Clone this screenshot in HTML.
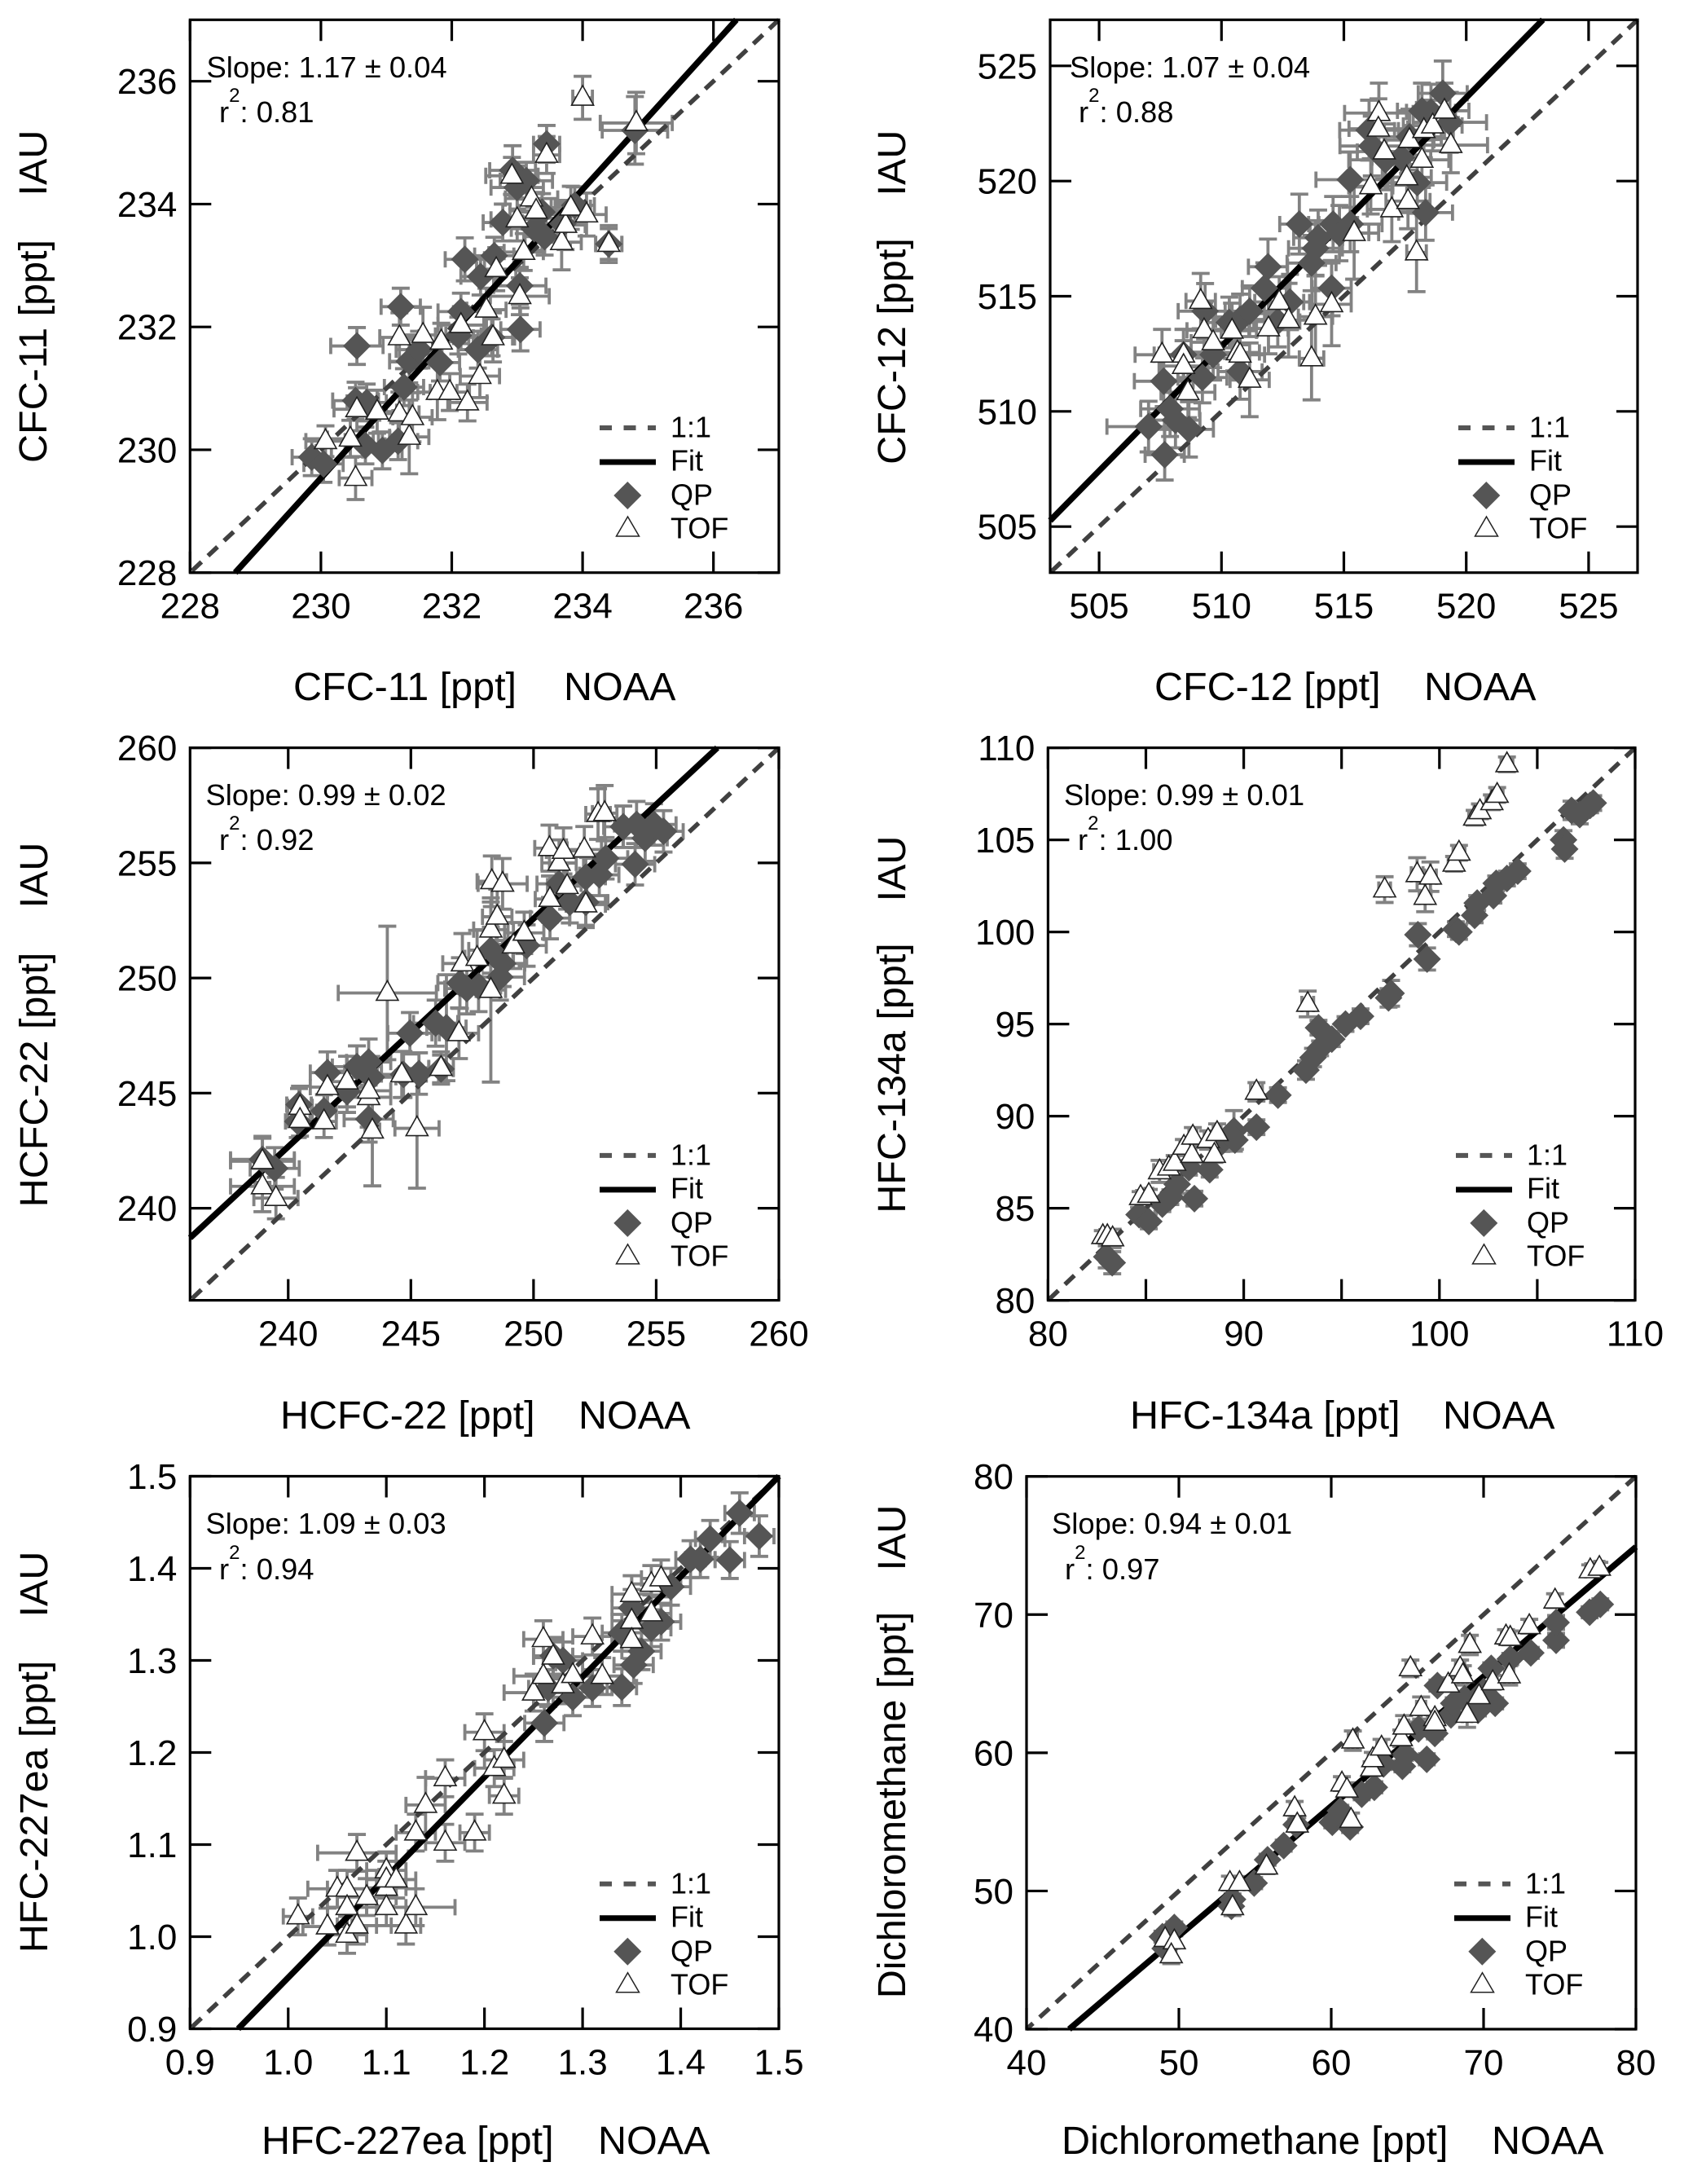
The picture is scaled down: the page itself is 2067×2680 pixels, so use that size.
<!DOCTYPE html>
<html lang="en">
<head>
<meta charset="utf-8">
<title>IAU vs NOAA mixing ratio comparison</title>
<style>
html,body{margin:0;padding:0;background:#fff;}
svg{display:block;position:absolute;left:0;top:0;}
text{font-family:"Liberation Sans",Arial,sans-serif;fill:#000;}
.ax{font-size:48.5px;}
.nt{font-size:36.4px;}
.lg{font-size:36px;}
</style>
</head>
<body>
<svg id="chart" xmlns="http://www.w3.org/2000/svg" width="2067" height="2680" viewBox="0 0 2067 2680">
  <rect x="0" y="0" width="2067" height="2680" fill="#fff"/>
  <g id="plots"></g>

  <g>
    <text class="ax" x="360" y="859">CFC-11 [ppt]</text>
    <text class="ax" x="692" y="859">NOAA</text>
    <text class="ax" transform="translate(57,431) rotate(-90)" text-anchor="middle">CFC-11 [ppt]</text>
    <text class="ax" transform="translate(57,200) rotate(-90)" text-anchor="middle">IAU</text>
    <text class="nt" x="253.5" y="95">Slope: 1.17 ± 0.04</text>
    <text class="nt" x="269" y="150">r<tspan font-size="24" dy="-25">2</tspan><tspan dy="25">: 0.81</tspan></text>

    <text class="ax" x="1417" y="859">CFC-12 [ppt]</text>
    <text class="ax" x="1748" y="859">NOAA</text>
    <text class="ax" transform="translate(1111,431) rotate(-90)" text-anchor="middle">CFC-12 [ppt]</text>
    <text class="ax" transform="translate(1111,200) rotate(-90)" text-anchor="middle">IAU</text>
    <text class="nt" x="1313" y="95">Slope: 1.07 ± 0.04</text>
    <text class="nt" x="1324" y="150">r<tspan font-size="24" dy="-25">2</tspan><tspan dy="25">: 0.88</tspan></text>

    <text class="ax" x="344" y="1753">HCFC-22 [ppt]</text>
    <text class="ax" x="710" y="1753">NOAA</text>
    <text class="ax" transform="translate(58,1325) rotate(-90)" text-anchor="middle">HCFC-22 [ppt]</text>
    <text class="ax" transform="translate(58,1074) rotate(-90)" text-anchor="middle">IAU</text>
    <text class="nt" x="252.5" y="988">Slope: 0.99 ± 0.02</text>
    <text class="nt" x="269" y="1043">r<tspan font-size="24" dy="-25">2</tspan><tspan dy="25">: 0.92</tspan></text>

    <text class="ax" x="1387" y="1753">HFC-134a [ppt]</text>
    <text class="ax" x="1771" y="1753">NOAA</text>
    <text class="ax" transform="translate(1111,1323) rotate(-90)" text-anchor="middle">HFC-134a [ppt]</text>
    <text class="ax" transform="translate(1111,1066) rotate(-90)" text-anchor="middle">IAU</text>
    <text class="nt" x="1306" y="988">Slope: 0.99 ± 0.01</text>
    <text class="nt" x="1323" y="1043">r<tspan font-size="24" dy="-25">2</tspan><tspan dy="25">: 1.00</tspan></text>

    <text class="ax" x="321" y="2643">HFC-227ea [ppt]</text>
    <text class="ax" x="734" y="2643">NOAA</text>
    <text class="ax" transform="translate(58,2217) rotate(-90)" text-anchor="middle">HFC-227ea [ppt]</text>
    <text class="ax" transform="translate(58,1944) rotate(-90)" text-anchor="middle">IAU</text>
    <text class="nt" x="252.5" y="1882">Slope: 1.09 ± 0.03</text>
    <text class="nt" x="269" y="1938">r<tspan font-size="24" dy="-25">2</tspan><tspan dy="25">: 0.94</tspan></text>

    <text class="ax" x="1303" y="2643">Dichloromethane [ppt]</text>
    <text class="ax" x="1831" y="2643">NOAA</text>
    <text class="ax" transform="translate(1111,2215) rotate(-90)" text-anchor="middle">Dichloromethane [ppt]</text>
    <text class="ax" transform="translate(1111,1887) rotate(-90)" text-anchor="middle">IAU</text>
    <text class="nt" x="1291" y="1882">Slope: 0.94 ± 0.01</text>
    <text class="nt" x="1307" y="1938">r<tspan font-size="24" dy="-25">2</tspan><tspan dy="25">: 0.97</tspan></text>
  </g>

  <g transform="translate(956,702.7)">
    <line x1="-220" x2="-151" y1="-177.7" y2="-177.7" stroke="#555" stroke-width="6" stroke-dasharray="15 14.5"/>
    <text class="lg" x="-133" y="-166">1:1</text>
    <line x1="-220" x2="-151" y1="-135.7" y2="-135.7" stroke="#000" stroke-width="7"/>
    <text class="lg" x="-133" y="-125">Fit</text>
    <polygon points="-185.7,-111.7 -168.7,-94.7 -185.7,-77.7 -202.7,-94.7" fill="#555"/>
    <text class="lg" x="-133" y="-83">QP</text>
    <polygon points="-185.5,-68.7 -171.5,-44.7 -199.5,-44.7" fill="#fff" stroke="#222" stroke-width="1.5"/>
    <text class="lg" x="-133" y="-42">TOF</text>
  </g>
  <g transform="translate(2010,702.7)">
    <line x1="-220" x2="-151" y1="-177.7" y2="-177.7" stroke="#555" stroke-width="6" stroke-dasharray="15 14.5"/>
    <text class="lg" x="-133" y="-166">1:1</text>
    <line x1="-220" x2="-151" y1="-135.7" y2="-135.7" stroke="#000" stroke-width="7"/>
    <text class="lg" x="-133" y="-125">Fit</text>
    <polygon points="-185.7,-111.7 -168.7,-94.7 -185.7,-77.7 -202.7,-94.7" fill="#555"/>
    <text class="lg" x="-133" y="-83">QP</text>
    <polygon points="-185.5,-68.7 -171.5,-44.7 -199.5,-44.7" fill="#fff" stroke="#222" stroke-width="1.5"/>
    <text class="lg" x="-133" y="-42">TOF</text>
  </g>
  <g transform="translate(956,1595.6)">
    <line x1="-220" x2="-151" y1="-177.7" y2="-177.7" stroke="#555" stroke-width="6" stroke-dasharray="15 14.5"/>
    <text class="lg" x="-133" y="-166">1:1</text>
    <line x1="-220" x2="-151" y1="-135.7" y2="-135.7" stroke="#000" stroke-width="7"/>
    <text class="lg" x="-133" y="-125">Fit</text>
    <polygon points="-185.7,-111.7 -168.7,-94.7 -185.7,-77.7 -202.7,-94.7" fill="#555"/>
    <text class="lg" x="-133" y="-83">QP</text>
    <polygon points="-185.5,-68.7 -171.5,-44.7 -199.5,-44.7" fill="#fff" stroke="#222" stroke-width="1.5"/>
    <text class="lg" x="-133" y="-42">TOF</text>
  </g>
  <g transform="translate(2007,1595.6)">
    <line x1="-220" x2="-151" y1="-177.7" y2="-177.7" stroke="#555" stroke-width="6" stroke-dasharray="15 14.5"/>
    <text class="lg" x="-133" y="-166">1:1</text>
    <line x1="-220" x2="-151" y1="-135.7" y2="-135.7" stroke="#000" stroke-width="7"/>
    <text class="lg" x="-133" y="-125">Fit</text>
    <polygon points="-185.7,-111.7 -168.7,-94.7 -185.7,-77.7 -202.7,-94.7" fill="#555"/>
    <text class="lg" x="-133" y="-83">QP</text>
    <polygon points="-185.5,-68.7 -171.5,-44.7 -199.5,-44.7" fill="#fff" stroke="#222" stroke-width="1.5"/>
    <text class="lg" x="-133" y="-42">TOF</text>
  </g>
  <g transform="translate(956,2489.5)">
    <line x1="-220" x2="-151" y1="-177.7" y2="-177.7" stroke="#555" stroke-width="6" stroke-dasharray="15 14.5"/>
    <text class="lg" x="-133" y="-166">1:1</text>
    <line x1="-220" x2="-151" y1="-135.7" y2="-135.7" stroke="#000" stroke-width="7"/>
    <text class="lg" x="-133" y="-125">Fit</text>
    <polygon points="-185.7,-111.7 -168.7,-94.7 -185.7,-77.7 -202.7,-94.7" fill="#555"/>
    <text class="lg" x="-133" y="-83">QP</text>
    <polygon points="-185.5,-68.7 -171.5,-44.7 -199.5,-44.7" fill="#fff" stroke="#222" stroke-width="1.5"/>
    <text class="lg" x="-133" y="-42">TOF</text>
  </g>
  <g transform="translate(2005,2489.5)">
    <line x1="-220" x2="-151" y1="-177.7" y2="-177.7" stroke="#555" stroke-width="6" stroke-dasharray="15 14.5"/>
    <text class="lg" x="-133" y="-166">1:1</text>
    <line x1="-220" x2="-151" y1="-135.7" y2="-135.7" stroke="#000" stroke-width="7"/>
    <text class="lg" x="-133" y="-125">Fit</text>
    <polygon points="-185.7,-111.7 -168.7,-94.7 -185.7,-77.7 -202.7,-94.7" fill="#555"/>
    <text class="lg" x="-133" y="-83">QP</text>
    <polygon points="-185.5,-68.7 -171.5,-44.7 -199.5,-44.7" fill="#fff" stroke="#222" stroke-width="1.5"/>
    <text class="lg" x="-133" y="-42">TOF</text>
  </g>
</svg>

<script>
// ---------- CFC-11 ----------
const cfc11XTicks = ["228","230","232","234","236"];
const cfc11YTicks = ["228","230","232","234","236"];
const cfc11FitX = [228.69,236.35];
const cfc11FitY = [228,237];
const cfc11QpX = [229.86,230.04,230.55,230.53,230.7,230.68,230.94,231.18,231.22,231.27,231.35,231.5,231.82,232.2,232.14,232.1,232.4,232.44,232.65,232.61,233.04,233.05,232.78,232.93,233,233.14,233.26,233.38,233.42,233.45,233.7,233.88,234.4,234.8];
const cfc11QpY = [229.88,229.77,231.69,230.8,230.77,230.07,229.99,230.14,232.33,231.02,231.44,231.63,231.42,233.1,232.25,231.86,231.63,232.82,233.16,231.83,232.67,231.96,233.7,234.55,234.27,234.38,233.6,233.87,233.47,234.98,233.68,233.98,233.35,235.2];
const cfc11QpXErr = [.3,.3,.4,.35,.3,.3,.3,.3,.3,.3,.3,.35,.3,.3,.35,.35,.3,.3,.3,.35,.4,.3,.3,.35,.4,.4,.35,.35,.3,.2,.35,.3,.2,.5];
const cfc11QpYErr = [.3,.3,.3,.3,.3,.3,.3,.3,.3,.3,.35,.3,.3,.35,.3,.3,.3,.3,.3,.3,.3,.35,.3,.4,.35,.3,.35,.3,.3,.3,.35,.3,.3,.55];
const cfc11TofX = [230.07,230.45,230.53,230.55,230.86,231.2,231.35,231.4,231.2,231.56,231.84,231.78,231.97,232.24,232.43,232.14,232.53,232.63,232.68,233.04,233.1,233,232.92,233.22,233.29,233.45,233.68,233.74,233.82,234.06,234.4,234,234.82];
const cfc11TofY = [230.14,230.18,229.54,230.66,230.62,230.59,230.21,230.53,231.83,231.87,231.76,230.94,230.94,230.77,231.2,232.03,232.28,231.83,232.94,232.5,233.22,233.75,234.46,234.09,233.89,234.8,233.38,233.66,233.94,233.83,233.35,235.73,235.32];
const cfc11TofXErr = [.3,.35,.25,.35,.3,.3,.3,.3,.3,.35,.3,.3,.3,.3,.3,.35,.3,.3,.3,.45,.3,.4,.4,.4,.4,.2,.3,.3,.3,.3,.2,.15,.55];
const cfc11TofYErr = [.25,.3,.35,.35,.35,.35,.6,.4,.4,.45,.3,.45,.3,.3,.35,.3,.35,.4,.35,.3,.3,.35,.3,.3,.3,.3,.45,.4,.35,.35,.25,.35,.5];

// ---------- CFC-12 ----------
const cfc12XTicks = ["505","510","515","520","525"];
const cfc12YTicks = ["505","510","515","520","525"];
const cfc12FitX = [503,523.13];
const cfc12FitY = [505.26,527];
const cfc12QpX = [507.02,507.68,507.64,507.9,508.12,508.67,508.45,509.22,509.33,509.66,510.32,510.76,511.15,510.76,511.75,511.9,512.3,512.8,513.18,513.68,513.84,513.95,514.56,514.5,514.82,515.26,515.26,516.03,516.14,516.7,517.35,518,517.68,518.34,518.19,518.56,519.04,519.33];
const cfc12QpY = [509.34,508.12,511.31,510.11,509.62,509.22,512.46,511.47,514.35,512.46,513.86,513.99,514.35,511.73,515.35,516.28,513.9,514.75,518.13,516.44,517.08,517.54,518.13,515.35,517.74,518.13,520.06,522.21,521.52,520.92,521.02,519.93,521.92,518.63,523.05,523,523.81,522.55];
const cfc12QpXErr = [1.7,.8,1.2,1.2,1,1,1.2,1,1.1,1,1,1,1,.9,.9,.8,.9,.8,.8,1,1.1,1,1,.8,1.2,1.3,1.4,1.2,1.3,1.5,1.2,1.2,1.3,1.1,1,1,1,1.5];
const cfc12QpYErr = [1.1,1.1,1.1,1.2,1.2,1.2,1.1,1.1,1.2,1.1,1.1,1.1,1.1,1.2,1.1,1.2,1.1,1.2,1.3,1.2,1.2,1.2,1.2,1.2,1.2,1.2,1.2,1.3,1.3,1.3,1.2,1.2,1.2,1.2,1.2,1.2,1.4,1.3];
const cfc12TofX = [507.57,508.45,508.45,508.63,509.15,509.29,509.66,510.43,510.65,510.76,511.15,511.92,512.36,512.74,513.68,513.84,514.5,515.42,516.1,516.43,516.41,516.65,516.96,517.57,517.62,517.68,517.97,518.19,518.27,518.63,519.11,519.37];
const cfc12TofY = [512.46,512.46,511.97,510.83,514.79,513.52,513,513.5,512.56,512.46,511.37,513.6,514.75,513.96,512.3,514.11,514.65,517.74,519.77,522.95,522.27,521.28,518.77,520.16,519.13,521.78,516.9,520.92,522.21,522.41,523.05,521.56];
const cfc12TofXErr = [1.1,1,1,1.1,.6,.7,.9,1,.9,1,.8,.8,1,.9,.5,.7,.8,1,.9,1.4,1.2,1.1,1,1,.9,1,.4,1.1,1.2,1.2,1,1.5];
const cfc12TofYErr = [1.1,1.1,1.1,1.1,1.2,1.2,1.1,1.2,1.1,1.1,1.6,1.1,1.1,1.6,1.8,1.8,1.8,2,1.2,1.3,1.3,1.2,1.4,1.3,1.2,1.3,1.7,1.2,1.2,1.1,1.2,1.2];

// ---------- HCFC-22 ----------
const hcfc22XTicks = ["240","245","250","255","260"];
const hcfc22YTicks = ["240","245","250","255","260"];
const hcfc22FitX = [236,257.49];
const hcfc22FitY = [238.71,260];
const hcfc22QpX = [238.95,239.45,240.44,240.39,241.46,241.6,242.4,243.28,242.8,243.28,243.39,244.96,244.7,245.33,246.23,246.01,246.45,247,247.28,247.76,248.63,248.26,248.74,249.72,250.67,251.48,251.04,252.13,252.68,252.94,252.13,253.66,254.14,254.2,254.55,254.91,255.3];
const hcfc22QpY = [242.12,241.73,244.5,243.77,244.23,245.89,245.06,243.87,246.15,246.35,245.69,247.6,245.81,245.85,246.05,248.04,247.84,249.78,249.54,249.64,250.04,251.21,250.63,251.41,252.6,253.29,254.09,254.38,254.48,255.2,253.29,256.57,254.94,256.67,256.07,256.67,256.37];
const hcfc22QpXErr = [1.3,1,.5,.5,.5,.7,.8,1,1,.9,1,.9,.9,.8,.5,.9,.8,.9,.9,.9,1,.9,.9,.8,.8,.9,.9,.8,.8,.9,.9,.8,.8,.9,.9,.9,.8];
const hcfc22QpYErr = [1,.9,.7,.7,.7,.9,.9,1,.9,1,.9,.9,1,.9,.6,1,2.3,1.1,1.1,1.1,1,1,1,.9,.9,.9,.9,.9,.9,.9,1,.9,.9,1,1,.9,.9];
const hcfc22TofX = [238.95,238.95,239.5,240.48,240.48,241.46,241.6,242.4,243.28,243.28,243.43,244.04,245.25,244.63,246.23,246.96,247.1,247.7,248.26,248.3,248.74,248.26,248.52,249.18,249.62,250.67,250.65,251.04,251.22,251.37,252.07,252.13,252.63,252.9];
const hcfc22TofY = [242.04,240.95,240.44,244.4,243.83,243.77,245.26,245.5,244.82,245.1,243.37,249.35,243.47,245.81,246.09,247.6,250.63,250.87,249.48,254.2,254.09,252.1,252.66,251.41,251.96,253.43,255.64,255,255.52,253.99,255.58,253.19,257.12,257.16];
const hcfc22TofXErr = [1.3,1.3,.9,.5,.5,.5,.7,.8,.9,.9,.3,2,.9,1,.5,.8,.8,.5,.6,.6,1,.7,.6,.7,.8,.6,.6,.7,.7,.8,.7,.8,.5,.5];
const hcfc22TofYErr = [1,1.1,.9,.9,.7,.7,.8,1.1,1.3,1.3,2.4,2.9,2.6,1,.7,1.1,1.3,1.2,4,1.1,1.1,1.2,1.2,1,.9,1,1,1,1,1,1,1,1.1,1.2];

// ---------- HFC-134a ----------
const hfc134aXTicks = ["80","90","100","110"];
const hfc134aXMinorTicks = [85,95,105];
const hfc134aYTicks = ["80","85","90","95","100","105","110"];
const hfc134aQpX = [83,83.28,84.65,85.15,85.84,86.25,86.6,87.2,87.48,88.26,88.86,89.5,89.55,90.65,91.75,93.18,93.54,93.9,93.82,94.5,95.2,95.97,97.4,97.53,98.9,99.37,100.84,101,101.8,101.93,102.76,102.9,103.45,104,106.34,106.4,106.75,107.17,107.7,107.86];
const hfc134aQpY = [82.36,82.04,84.65,84.28,85.22,85.6,86.3,87.2,85.52,87.09,88.58,89.2,88.7,89.4,91.14,92.5,93.18,93.68,94.8,94.18,95,95.42,96.42,96.67,99.85,98.53,100.15,100,100.9,101.57,101.97,102.64,102.9,103.3,105,104.5,106.6,106.37,106.87,107];
const hfc134aQpXErr = [.2,.2,.2,.2,.2,.2,.2,.2,.2,.2,.2,.2,.2,.2,.2,.2,.2,.2,.2,.2,.2,.2,.2,.2,.2,.2,.2,.2,.2,.2,.2,.2,.2,.2,.2,.2,.2,.2,.2,.2];
const hfc134aQpYErr = [.6,.6,.4,.4,.4,.4,.5,.4,.4,.4,.5,1.1,.5,.4,.4,.5,.5,.4,.4,.4,.4,.4,.5,.7,.6,.6,.4,.4,.4,.4,.4,.4,.4,.4,.5,.5,.5,.5,.4,.4];
const hfc134aTofX = [82.8,83.03,83.3,84.73,85.15,85.7,86.17,86.47,86.94,87.35,87.4,88.18,88.5,88.64,90.65,93.27,97.2,98.86,99.27,99.54,100.75,101,101.8,102.07,102.68,102.95,103.45];
const hfc134aTofY = [83.48,83.48,83.36,85.6,85.72,87,87.2,87.46,88.33,87.89,88.88,88.7,87.89,89.08,91.32,96.09,102.3,103.13,101.9,103,103.7,104.3,106.2,106.55,107.04,107.44,109.1];
const hfc134aTofXErr = [.15,.15,.15,.2,.2,.3,.2,.2,.2,.2,.2,.2,.2,.2,.3,.3,.3,.3,.3,.3,.3,.3,.3,.3,.3,.3,.3];
const hfc134aTofYErr = [.3,.3,.5,.3,.3,.6,.4,.4,.4,.4,.5,.5,.4,.5,.5,.7,.7,.9,.8,.8,.4,.4,.4,.4,.4,.4,.4];

// ---------- HFC-227ea ----------
const hfc227XTicks = ["0.9","1.0","1.1","1.2","1.3","1.4","1.5"];
const hfc227YTicks = ["0.9","1.0","1.1","1.2","1.3","1.4","1.5"];
const hfc227FitX = [0.949,1.5];
const hfc227FitY = [0.9,1.5];
const hfc227QpX = [1.261,1.265,1.27,1.28,1.29,1.31,1.34,1.34,1.35,1.352,1.36,1.37,1.38,1.39,1.41,1.42,1.43,1.45,1.46,1.48];
const hfc227QpY = [1.232,1.27,1.305,1.3,1.26,1.27,1.271,1.33,1.357,1.295,1.31,1.335,1.342,1.38,1.41,1.41,1.432,1.409,1.46,1.435];
const hfc227QpXErr = [.02,.02,.02,.02,.02,.02,.015,.02,.02,.02,.02,.02,.02,.02,.015,.015,.015,.015,.015,.015];
const hfc227QpYErr = [.02,.02,.02,.02,.02,.02,.02,.02,.02,.02,.02,.02,.02,.02,.02,.02,.02,.02,.022,.022];
const hfc227TofX = [1.01,1.04,1.05,1.06,1.06,1.06,1.07,1.07,1.08,1.10,1.10,1.10,1.10,1.11,1.12,1.13,1.13,1.14,1.16,1.16,1.19,1.20,1.21,1.22,1.22,1.25,1.26,1.26,1.27,1.28,1.29,1.31,1.32,1.35,1.35,1.35,1.37,1.37,1.38];
const hfc227TofY = [1.022,1.011,1.052,1.052,1.032,1.002,1.012,1.091,1.043,1.072,1.053,1.062,1.032,1.062,1.012,1.032,1.113,1.143,1.172,1.102,1.113,1.222,1.183,1.192,1.153,1.265,1.323,1.283,1.304,1.273,1.284,1.326,1.283,1.372,1.343,1.322,1.383,1.351,1.389];
const hfc227TofXErr = [.015,.025,.03,.02,.02,.02,.02,.04,.03,.02,.02,.02,.02,.02,.015,.04,.02,.02,.02,.02,.015,.02,.02,.02,.015,.03,.02,.03,.02,.02,.02,.02,.02,.02,.02,.02,.02,.02,.02];
const hfc227TofYErr = [.02,.02,.02,.02,.02,.02,.02,.02,.02,.02,.02,.02,.02,.02,.02,.02,.02,.03,.02,.02,.02,.02,.02,.02,.02,.02,.02,.02,.02,.02,.02,.02,.02,.02,.02,.02,.02,.02,.02];

// ---------- Dichloromethane ----------
const dcmXTicks = ["40","50","60","70","80"];
const dcmYTicks = ["40","50","60","70","80"];
const dcmFitX = [42.8,80];
const dcmFitY = [40,74.9];
const dcmQpX = [48.92,49.1,49.7,53.52,53.45,54.94,55.82,56.88,57.7,60.07,60.6,61.24,62,62.83,63.43,64.67,64.85,66.27,65.73,66.8,66.97,67.86,68.04,68.75,69.63,70,70.5,70.76,71.75,73.1,74.76,74.76,76.96,77.66];
const dcmQpY = [46.69,45.84,47.36,49.39,48.89,50.57,52.26,53.28,54.8,54.97,55.8,54.63,57,57.5,59.19,59.02,59.86,59.53,61.72,61.4,64.86,62.74,63.58,63.92,63.07,64.43,66.11,63.58,66.79,67.23,68.14,69.43,70.17,70.74];
const dcmQpXErr = [.3,.3,.3,.3,.3,.3,.3,.3,.3,.3,.3,.3,.3,.3,.3,.3,.3,.3,.3,.3,.3,.3,.3,.3,.3,.3,.3,.3,.3,.3,.3,.3,.3,.3];
const dcmQpYErr = [.4,.4,.4,.4,.4,.4,.4,.4,.4,.4,.4,.4,.4,.4,.4,.4,.4,.4,.5,.4,.4,.4,.4,.4,.4,.4,.4,.4,.4,.4,.5,.5,.4,.4];
const dcmTofX = [49.1,49.7,49.5,53.35,53.52,53.98,55.75,57.6,57.77,60.7,61.03,61.3,61.42,62.65,62.73,63.3,64.6,64.78,65.2,65.9,66.8,66.8,67.68,68.46,68.64,68.92,69.1,69.7,70.6,71.68,71.47,71.75,73,74.69,77,77.6];
const dcmTofY = [46.52,46.35,45.34,50.57,48.82,50.57,51.76,55.98,54.8,57.77,57.33,55.14,60.88,58.85,59.53,60.37,61.05,61.89,66.11,63.24,62.5,62.16,64.93,66.11,65.6,62.74,67.8,64.09,65.1,65.6,68.41,68.31,69.16,71.01,73.2,73.38];
const dcmTofXErr = [.3,.3,.3,.3,.3,.3,.3,.3,.3,.3,.3,.3,.3,.3,.3,.3,.3,.3,.3,.3,.3,.3,.3,.3,.3,.3,.3,.3,.3,.3,.3,.3,.3,.3,.3,.3];
const dcmTofYErr = [.4,.4,.6,.5,.6,.4,.5,.5,.5,.5,.5,.5,.7,.5,.5,.6,.6,.8,.6,.8,.5,.5,.5,.6,.7,.9,.7,.5,.5,.7,.5,.5,.5,.5,.4,.4];

const panels = [
  {id:'cfc-11',left:233.3,right:956,top:24.3,bottom:702.7,xMin:228,xMax:237,yMin:228,yMax:237,xTicks:cfc11XTicks,yTicks:cfc11YTicks,xExtra:[],fitX:cfc11FitX,fitY:cfc11FitY,
   qp:[cfc11QpX,cfc11QpY,cfc11QpXErr,cfc11QpYErr],tof:[cfc11TofX,cfc11TofY,cfc11TofXErr,cfc11TofYErr]},
  {id:'cfc-12',left:1289,right:2010,top:24.3,bottom:702.7,xMin:503,xMax:527,yMin:503,yMax:527,xTicks:cfc12XTicks,yTicks:cfc12YTicks,xExtra:[],fitX:cfc12FitX,fitY:cfc12FitY,
   qp:[cfc12QpX,cfc12QpY,cfc12QpXErr,cfc12QpYErr],tof:[cfc12TofX,cfc12TofY,cfc12TofXErr,cfc12TofYErr]},
  {id:'hcfc-22',left:233.3,right:956,top:917.6,bottom:1595.6,xMin:236,xMax:260,yMin:236,yMax:260,xTicks:hcfc22XTicks,yTicks:hcfc22YTicks,xExtra:[],fitX:hcfc22FitX,fitY:hcfc22FitY,
   qp:[hcfc22QpX,hcfc22QpY,hcfc22QpXErr,hcfc22QpYErr],tof:[hcfc22TofX,hcfc22TofY,hcfc22TofXErr,hcfc22TofYErr]},
  {id:'hfc-134a',left:1286.4,right:2007,top:917.6,bottom:1595.6,xMin:80,xMax:110,yMin:80,yMax:110,xTicks:hfc134aXTicks,yTicks:hfc134aYTicks,xExtra:hfc134aXMinorTicks,fitX:null,fitY:null,
   qp:[hfc134aQpX,hfc134aQpY,hfc134aQpXErr,hfc134aQpYErr],tof:[hfc134aTofX,hfc134aTofY,hfc134aTofXErr,hfc134aTofYErr]},
  {id:'hfc-227ea',left:233.3,right:956,top:1811.5,bottom:2489.5,xMin:0.9,xMax:1.5,yMin:0.9,yMax:1.5,xTicks:hfc227XTicks,yTicks:hfc227YTicks,xExtra:[],fitX:hfc227FitX,fitY:hfc227FitY,
   qp:[hfc227QpX,hfc227QpY,hfc227QpXErr,hfc227QpYErr],tof:[hfc227TofX,hfc227TofY,hfc227TofXErr,hfc227TofYErr]},
  {id:'dichloromethane',left:1260,right:2008,top:1811.7,bottom:2490,xMin:40,xMax:80,yMin:40,yMax:80,xTicks:dcmXTicks,yTicks:dcmYTicks,xExtra:[],fitX:dcmFitX,fitY:dcmFitY,
   qp:[dcmQpX,dcmQpY,dcmQpXErr,dcmQpYErr],tof:[dcmTofX,dcmTofY,dcmTofXErr,dcmTofYErr]}
];

const NS = 'http://www.w3.org/2000/svg';
const TICK = 26;
const CAP_X = 10;
const CAP_Y = 11;
const ERR_COLOR = '#828282';

function make(parent, tag, attrs) {
  const el = document.createElementNS(NS, tag);
  for (const k in attrs) el.setAttribute(k, attrs[k]);
  parent.appendChild(el);
  return el;
}

function drawErrors(g, series, sx, sy, label) {
  const [xs, ys, exs, eys] = series;
  xs.forEach(function (xv, i) {
    const yv = ys[i], ex = exs[i], ey = eys[i];
    if (yv === undefined || ex === undefined || ey === undefined) return;
    const px = sx(xv), py = sy(yv);
    const x0 = sx(xv - ex), x1 = sx(xv + ex), y0 = sy(yv + ey), y1 = sy(yv - ey);
    const d = 'M' + x0 + ' ' + py + 'H' + x1 +
      'M' + px + ' ' + y0 + 'V' + y1 +
      'M' + x0 + ' ' + (py - CAP_X) + 'V' + (py + CAP_X) +
      'M' + x1 + ' ' + (py - CAP_X) + 'V' + (py + CAP_X) +
      'M' + (px - CAP_Y) + ' ' + y0 + 'H' + (px + CAP_Y) +
      'M' + (px - CAP_Y) + ' ' + y1 + 'H' + (px + CAP_Y);
    const el = make(g, 'path', {d: d, fill: 'none', stroke: ERR_COLOR, 'stroke-width': 3.8});
    
    
  });
}

panels.forEach(function (p) {
  const root = document.getElementById('plots');
  const g = make(root, 'g', {});
  
  

  const sx = function (v) { return p.left + (v - p.xMin) / (p.xMax - p.xMin) * (p.right - p.left); };
  const sy = function (v) { return p.bottom - (v - p.yMin) / (p.yMax - p.yMin) * (p.bottom - p.top); };

  // error bars
  drawErrors(g, p.tof, sx, sy, 'tof');
  drawErrors(g, p.qp, sx, sy, 'qp');

  // 1:1 line, from the top right corner down
  const oneToOne = make(g, 'line', {
    x1: sx(p.xMax), y1: sy(p.yMax), x2: sx(p.xMin), y2: sy(p.yMin),
    stroke: '#404040', 'stroke-width': 5.5, 'stroke-dasharray': '16 11'
  });
  
  

  // fit line
  if (p.fitX) {
    const fit = make(g, 'line', {
      x1: sx(p.fitX[0]), y1: sy(p.fitY[0]), x2: sx(p.fitX[1]), y2: sy(p.fitY[1]),
      stroke: '#000', 'stroke-width': 7.5
    });
    
    
  }

  // QP diamonds
  p.qp[0].forEach(function (xv, i) {
    const yv = p.qp[1][i];
    if (yv === undefined) return;
    const cx = sx(xv), cy = sy(yv);
    const el = make(g, 'polygon', {
      points: cx + ',' + (cy - 17) + ' ' + (cx + 17) + ',' + cy + ' ' + cx + ',' + (cy + 17) + ' ' + (cx - 17) + ',' + cy,
      fill: '#555'
    });
    
    
  });

  // TOF triangles
  p.tof[0].forEach(function (xv, i) {
    const yv = p.tof[1][i];
    if (yv === undefined) return;
    const cx = sx(xv), cy = sy(yv);
    const el = make(g, 'polygon', {
      points: cx + ',' + (cy - 15) + ' ' + (cx + 13.5) + ',' + (cy + 9) + ' ' + (cx - 13.5) + ',' + (cy + 9),
      fill: '#fff', stroke: '#222', 'stroke-width': 1.6
    });
    
    
  });

  // plot frame
  const frame = make(g, 'rect', {
    x: p.left, y: p.top, width: p.right - p.left, height: p.bottom - p.top,
    fill: 'none', stroke: '#000', 'stroke-width': 3.2
  });
  
  

  // x ticks
  p.xTicks.forEach(function (label) {
    const v = parseFloat(label), x = sx(v);
    const mark = make(g, 'path', {
      d: 'M' + x + ' ' + p.bottom + 'v' + (-TICK) + 'M' + x + ' ' + p.top + 'v' + TICK,
      stroke: '#000', 'stroke-width': 3.2, fill: 'none'
    });
    
    
    const t = make(g, 'text', {x: x, y: p.bottom + 56, 'text-anchor': 'middle', 'font-size': 44});
    t.textContent = label;
    
    
  });
  p.xExtra.forEach(function (v) {
    const x = sx(v);
    const mark = make(g, 'path', {
      d: 'M' + x + ' ' + p.bottom + 'v' + (-TICK) + 'M' + x + ' ' + p.top + 'v' + TICK,
      stroke: '#000', 'stroke-width': 3.2, fill: 'none'
    });
    
    
  });

  // y ticks
  p.yTicks.forEach(function (label) {
    const v = parseFloat(label), y = sy(v);
    const mark = make(g, 'path', {
      d: 'M' + p.left + ' ' + y + 'h' + TICK + 'M' + p.right + ' ' + y + 'h' + (-TICK),
      stroke: '#000', 'stroke-width': 3.2, fill: 'none'
    });
    
    
    const t = make(g, 'text', {x: p.left - 16, y: y + 15.5, 'text-anchor': 'end', 'font-size': 44});
    t.textContent = label;
    
    
  });
});
</script>
</body>
</html>
